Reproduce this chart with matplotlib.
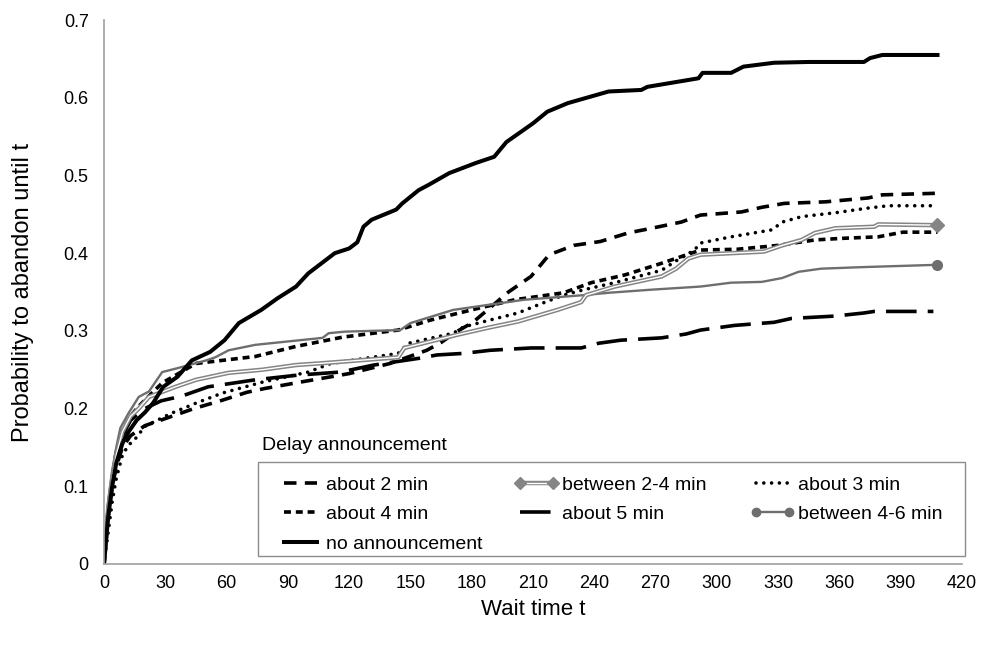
import matplotlib
matplotlib.use("Agg")
import matplotlib.pyplot as plt
from matplotlib.lines import Line2D
from matplotlib.patches import Rectangle
from matplotlib.legend import Legend
from matplotlib.legend_handler import HandlerTuple

plt.rcParams['font.family'] = ['Liberation Sans', 'DejaVu Sans']
plt.rcParams['lines.scale_dashes'] = False

# ---------------- data ----------------
t_na = [0, 1, 2, 4, 6, 9, 12, 16, 20, 24, 29, 36, 43, 52, 59, 66, 77, 85, 94, 100,
        113, 120, 124, 127, 131, 143, 146, 154, 159, 169, 182, 191, 197, 210, 217,
        227, 247, 263, 266, 291, 293, 307, 313, 328, 345, 372, 375, 381, 408]
p_na = [0, .03, .06, .10, .13, .155, .17, .185, .195, .207, .228, .241, .262, .273,
        .288, .31, .327, .342, .357, .374, .40, .406, .414, .434, .443, .456, .464,
        .481, .488, .503, .516, .524, .543, .567, .582, .593, .608, .61, .614, .625,
        .632, .632, .64, .645, .646, .646, .651, .655, .655]

t_46 = [0, 1, 2, 4, 6, 8, 12, 17, 22, 28.5, 36, 50, 54.5, 61, 74, 107, 110, 118, 145,
        150, 171, 205.6, 235, 247, 268, 292, 307, 322, 332, 340, 351, 371, 408]
p_46 = [0, .04, .08, .12, .15, .175, .194, .215, .222, .247, .252, .262, .266, .275,
        .282, .291, .297, .299, .301, .31, .327, .34, .346, .349, .353, .357, .362,
        .363, .368, .376, .38, .382, .385]

t_24 = [0, 1, 2, 4, 6, 9, 13, 17, 22, 35, 45, 61, 77.5, 94, 110, 144, 147, 173, 188,
        202.6, 222, 233.6, 236, 250, 273, 280, 286, 292, 323, 332, 341.5, 348, 358,
        377, 379, 408]
p_24 = [0, .035, .07, .11, .14, .17, .19, .2, .215, .228, .237, .246, .25, .256, .259,
        .266, .278, .295, .304, .312, .327, .337, .346, .357, .37, .38, .393, .398,
        .402, .41, .417, .426, .432, .434, .437, .436]

t_3 = [0, 1, 2, 4, 6, 9, 12, 15, 20, 33, 45, 58, 77.5, 100, 111, 144, 149, 171, 176,
       189, 202.6, 215, 225, 235, 250, 273, 280, 289, 292, 307, 327, 332, 341.5, 358,
       374, 384, 408]
p_3 = [0, .02, .04, .08, .11, .14, .153, .16, .177, .194, .207, .22, .234, .247, .258,
       .271, .284, .297, .305, .314, .323, .336, .346, .353, .362, .378, .39, .404,
       .413, .421, .43, .44, .447, .452, .458, .461, .461]

t_4 = [0, 1, 2, 4, 6, 9, 13, 16, 20, 28.5, 45, 74, 94, 117, 144, 160, 180, 201, 225,
       238.5, 255, 273, 292, 310, 330, 348, 361, 379, 391, 408]
p_4 = [0, .035, .07, .11, .145, .17, .19, .2, .211, .233, .258, .267, .28, .292, .301,
       .314, .327, .34, .349, .362, .372, .387, .404, .405, .41, .417, .419, .421,
       .427, .427]

t_2 = [0, 1, 2, 4, 6, 9, 13, 20, 31, 44, 57, 70, 79, 96, 120, 140, 158, 165, 172,
       180.6, 198, 209, 217, 220, 230, 243, 256.6, 268, 282.6, 292, 312, 322, 333,
       353, 374, 381, 407]
p_2 = [0, .03, .06, .10, .125, .15, .165, .178, .188, .2, .21, .221, .226, .234, .245,
       .258, .275, .285, .298, .311, .35, .37, .395, .40, .41, .415, .426, .432, .44,
       .449, .453, .459, .464, .466, .471, .475, .477]

t_5 = [0, 1, 2, 4, 6, 9, 13, 20, 28, 38, 51, 74, 94.7, 115.8, 132, 155, 163, 176, 189,
       209, 233.6, 242, 253, 273, 285, 292, 308.6, 328, 336.6, 357.7, 372, 377, 406]
p_5 = [0, .035, .07, .11, .14, .165, .185, .2, .21, .216, .228, .237, .243, .247, .256,
       .265, .269, .271, .275, .278, .278, .284, .288, .291, .296, .301, .307, .311,
       .316, .319, .323, .325, .325]

labels = ["about 2 min", "between 2-4 min", "about 3 min", "about 4 min",
          "about 5 min", "between 4-6 min", "no announcement"]
legend_title = "Delay announcement"
x_ticks = list(range(0, 421, 30))
y_ticks = [0, 0.1, 0.2, 0.3, 0.4, 0.5, 0.6, 0.7]
y_ticklabels = ["0", "0.1", "0.2", "0.3", "0.4", "0.5", "0.6", "0.7"]

# ---------------- styles ----------------
LW = 2.6
dash2 = (0, (9, 6))
dash4 = (0, (5, 3.5))
dash5 = (0, (22, 8))
dot3 = (0, (0.01, 5.6))
gray_solid = '#6e6e6e'
gray_dbl = '#858585'

W, H = 984, 648
AX_L, AX_R, AX_T, AX_B = 104, 962, 20, 564

fig = plt.figure(figsize=(W / 100, H / 100), dpi=100)
ax = fig.add_axes([AX_L / W, 1 - AX_B / H, (AX_R - AX_L) / W, (AX_B - AX_T) / H])


def axx(px):
    return (px - AX_L) / (AX_R - AX_L)


def axy(py):
    return (AX_B - py) / (AX_B - AX_T)


ax.plot(t_5, p_5, color='black', lw=LW, linestyle=dash5)
ax.plot(t_4, p_4, color='black', lw=LW, linestyle=dash4)
ax.plot(t_2, p_2, color='black', lw=LW, linestyle=dash2)
ax.plot(t_3, p_3, color='black', lw=LW, linestyle=dot3, dash_capstyle='round')
ax.plot(t_46, p_46, color=gray_solid, lw=1.7)
ax.plot(t_46[-1:], p_46[-1:], color=gray_solid, marker='o', ms=7, ls='none')
ax.plot(t_24, p_24, color=gray_dbl, lw=3.2)
ax.plot(t_24, p_24, color='white', lw=1.0)
ax.plot(t_24[-1:], p_24[-1:], color=gray_dbl, marker='D', ms=7, ls='none')
ax.plot(t_na, p_na, color='black', lw=LW + 0.3)

ax.set_xlim(0, 420)
ax.set_ylim(0, 0.7)
ax.set_xticks(x_ticks)
ax.set_yticks(y_ticks)
ax.set_yticklabels(y_ticklabels)
ax.tick_params(axis='x', length=0, labelsize=13, pad=8)
ax.tick_params(axis='y', length=0, labelsize=13, pad=11)
for s in ['top', 'right']:
    ax.spines[s].set_visible(False)
for s in ['left', 'bottom']:
    ax.spines[s].set_color('#a0a0a0')
    ax.spines[s].set_linewidth(1.2)
ax.set_xlabel("Wait time t", fontsize=16, labelpad=5)
ax.set_ylabel("Probability to abandon until t", fontsize=17, labelpad=21)

# ---------------- legend ----------------
h2 = Line2D([], [], color='black', lw=LW, linestyle=dash2)
h24 = (Line2D([], [], color=gray_dbl, lw=3.2),
       Line2D([], [], color='white', lw=1.0),
       Line2D([], [], color=gray_dbl, marker='D', ms=6, ls='none'))
h3 = Line2D([], [], color='black', lw=LW, linestyle=dot3, dash_capstyle='round')
h4 = Line2D([], [], color='black', lw=LW, linestyle=dash4)
h5 = Line2D([], [], color='black', lw=LW, linestyle=dash5)
h46 = (Line2D([], [], color=gray_solid, lw=1.7),
       Line2D([], [], color=gray_solid, marker='o', ms=6, ls='none'))
hna = Line2D([], [], color='black', lw=LW + 0.3)

frame = Rectangle((axx(258), axy(556)), axx(965) - axx(258), axy(462) - axy(556),
                  transform=ax.transAxes, facecolor='white', edgecolor='#8c8c8c',
                  lw=1.0, clip_on=False, zorder=4)
ax.add_patch(frame)

columns = [([h2, h4, hna], [labels[0], labels[3], labels[6]], 278),
           ([h24, h5], [labels[1], labels[4]], 514),
           ([h3, h46], [labels[2], labels[5]], 750)]
for hs, ls, px in columns:
    lg = Legend(ax, hs, ls, loc='upper left', bbox_to_anchor=(axx(px), axy(476)),
                bbox_transform=ax.transAxes,
                fontsize=14, frameon=False, numpoints=2, handlelength=2.3,
                handletextpad=0.15, labelspacing=0.62, borderpad=0,
                borderaxespad=0, handler_map={tuple: HandlerTuple(ndivide=1)})
    lg.set_zorder(5)
    ax.add_artist(lg)

ax.text(axx(262), axy(446), legend_title, transform=ax.transAxes,
        fontsize=14, ha='left', va='center')

fig.savefig("out.png", dpi=100)
